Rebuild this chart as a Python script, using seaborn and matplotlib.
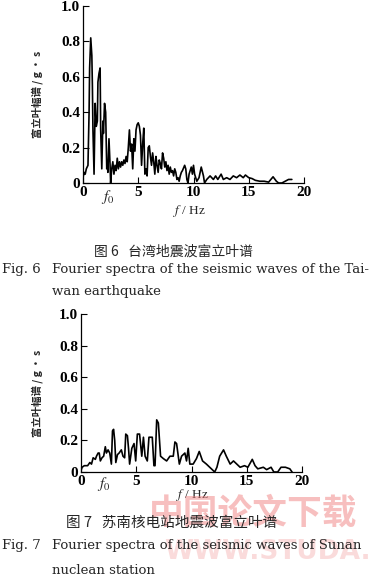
import pandas as pd
import matplotlib
matplotlib.use('Agg')
import matplotlib.pyplot as plt
import seaborn as sns

# Fig. 6 - Taiwan earthquake spectrum (frequency in Hz, amplitude in g*s)
taiwan_freq = [0.0, 0.1, 0.2, 0.3, 0.45, 0.55, 0.6, 0.7, 0.8, 0.85, 0.9, 1.0,
               1.1, 1.2, 1.3, 1.35, 1.45, 1.55, 1.6, 1.7, 1.8, 1.85, 1.95, 2.05,
               2.15, 2.2, 2.25, 2.35, 2.45, 2.5, 2.6, 2.7, 2.8, 2.9, 3.0, 3.1,
               3.2, 3.3, 3.4, 3.5, 3.6, 3.7, 3.8, 3.9, 4.0, 4.1, 4.2, 4.3, 4.4,
               4.5, 4.6, 4.7, 4.8, 4.9, 5.0, 5.1, 5.2, 5.3, 5.4, 5.5, 5.6, 5.7,
               5.8, 5.9, 6.0, 6.1, 6.2, 6.3, 6.4, 6.5, 6.6, 6.7, 6.8, 6.9, 7.0,
               7.1, 7.2, 7.3, 7.4, 7.5, 7.6, 7.7, 7.8, 7.9, 8.0, 8.1, 8.2, 8.3,
               8.4, 8.5, 8.6, 8.7, 8.8, 8.9, 9.0, 9.2, 9.3, 9.4, 9.5, 9.6, 9.8,
               9.9, 10.0, 10.1, 10.3, 10.5, 10.7, 10.9, 11.0, 11.2, 11.5, 11.8,
               12.0, 12.2, 12.5, 12.7, 13.0, 13.3, 13.6, 13.9, 14.2, 14.5, 14.7,
               15.0, 15.3, 15.6, 16.0, 16.4, 16.8, 17.0, 17.2, 17.5, 17.7, 18.0,
               18.3, 18.6, 18.9]
taiwan_amp = [0.03, 0.06, 0.05, 0.08, 0.1, 0.4, 0.65, 0.82, 0.72, 0.55, 0.3, 0.05,
              0.45, 0.32, 0.35, 0.57, 0.62, 0.65, 0.3, 0.08, 0.35, 0.28, 0.45, 0.4,
              0.08, 0.12, 0.06, 0.25, 0.1, 0.0, 0.08, 0.12, 0.05, 0.1, 0.07, 0.14,
              0.08, 0.12, 0.09, 0.12, 0.1, 0.13, 0.11, 0.15, 0.12, 0.2, 0.3, 0.18, 0.22,
              0.08, 0.25, 0.18, 0.3, 0.33, 0.34, 0.32, 0.27, 0.1, 0.22, 0.31, 0.05, 0.08,
              0.04, 0.2, 0.21, 0.15, 0.1, 0.17, 0.12, 0.05, 0.15, 0.1, 0.06, 0.13, 0.11,
              0.08, 0.17, 0.14, 0.09, 0.12, 0.07, 0.1, 0.05, 0.09, 0.06, 0.07, 0.04, 0.08,
              0.06, 0.02, 0.03, 0.01, 0.04, 0.06, 0.07, 0.1, 0.08, 0.02, 0.0, 0.05, 0.09,
              0.05, 0.1, 0.05, 0.01, 0.03, 0.09, 0.04, 0.0, 0.02, 0.04, 0.02,
              0.04, 0.02, 0.05, 0.02, 0.03, 0.02, 0.04, 0.03, 0.045, 0.03, 0.045,
              0.03, 0.025, 0.015, 0.01, 0.01, 0.005, 0.02, 0.035, 0.01, 0.0, 0.0,
              0.01, 0.02, 0.02]

# Fig. 7 - Sunan nuclear station spectrum
sunan_freq = [0.0, 0.1, 0.3, 0.6, 0.8, 0.95, 1.1, 1.3, 1.4, 1.55, 1.65, 1.75,
              1.9, 2.05, 2.2, 2.3, 2.45, 2.6, 2.75, 2.85, 2.95, 3.05, 3.15, 3.3,
              3.45, 3.65, 3.8, 3.95, 4.05, 4.2, 4.3, 4.4, 4.6, 4.8, 4.95, 5.1,
              5.3, 5.5, 5.65, 5.8, 6.0, 6.15, 6.45, 6.6, 6.7, 6.85, 7.0, 7.2,
              7.45, 7.75, 8.05, 8.35, 8.5, 8.65, 8.9, 9.1, 9.4, 9.55, 9.7, 9.85,
              10.15, 10.45, 10.7, 11.0, 11.35, 11.8, 12.1, 12.3, 12.55, 12.9,
              13.15, 13.5, 13.8, 14.1, 14.4, 14.8, 15.1, 15.5, 15.75, 16.0, 16.5,
              16.8, 17.2, 17.45, 17.8, 18.1, 18.5, 18.9, 19.1]
sunan_amp = [0.01, 0.03, 0.04, 0.04, 0.06, 0.05, 0.09, 0.08, 0.1, 0.12, 0.12, 0.07,
             0.09, 0.1, 0.16, 0.12, 0.14, 0.12, 0.05, 0.26, 0.27, 0.2, 0.06, 0.11,
             0.12, 0.14, 0.1, 0.09, 0.24, 0.23, 0.15, 0.05, 0.15, 0.18, 0.07, 0.24,
             0.24, 0.1, 0.22, 0.1, 0.07, 0.22, 0.22, 0.04, 0.04, 0.33, 0.31, 0.1,
             0.085, 0.07, 0.1, 0.1, 0.19, 0.18, 0.05, 0.1, 0.12, 0.07, 0.15, 0.05,
             0.05, 0.085, 0.13, 0.07, 0.05, 0.02, 0.0, 0.03, 0.1, 0.14,
             0.1, 0.05, 0.07, 0.05, 0.03, 0.04, 0.03, 0.08, 0.04, 0.02, 0.03,
             0.015, 0.03, 0.0, 0.0, 0.03, 0.03, 0.02, 0.0]

x_ticks = [0, 5, 10, 15, 20]
y_ticks = [0, 0.2, 0.4, 0.6, 0.8, 1.0]
y_tick_labels = ['0', '0.2', '0.4', '0.6', '0.8', '1.0']

sns.set_style('ticks')
plt.rcParams['font.family'] = ['Liberation Serif', 'Noto Sans CJK SC']
plt.rcParams['mathtext.fontset'] = 'stix'

W, H = 370, 584
fig = plt.figure(figsize=(W / 100, H / 100), dpi=100)

cjk = ['Noto Sans CJK SC', 'DejaVu Sans']
serif_en = 'DejaVu Serif'


def fy(py):
    return 1 - py / H


def draw_panel(left, top, bottom, freq, amp, f0_x, f0_y, xlab_y, xlab_x):
    width = 221
    rect = [left / W, fy(bottom), width / W, (bottom - top) / H]
    ax = fig.add_axes(rect)
    df = pd.DataFrame({'f': freq, 'a': amp})
    sns.lineplot(data=df, x='f', y='a', sort=False, estimator=None,
                 color='black', linewidth=1.2, ax=ax)
    ax.set_xlim(0, 20)
    ax.set_ylim(0, 1.0)
    ax.set_xticks(x_ticks)
    ax.set_xticklabels([str(t) for t in x_ticks])
    ax.set_yticks(y_ticks)
    ax.set_yticklabels(y_tick_labels)
    ax.tick_params(direction='in', length=4, width=0.8, labelsize=11, pad=2,
                   colors='black')
    for lbl in ax.get_xticklabels() + ax.get_yticklabels():
        lbl.set_fontweight('bold')
    sns.despine(ax=ax)
    for s in ['left', 'bottom']:
        ax.spines[s].set_linewidth(0.9)
        ax.spines[s].set_color('black')
    ax.set_xlabel('$f$ / Hz', fontsize=9.5, va='center')
    ax.xaxis.set_label_coords((xlab_x - left) / width,
                              (bottom - xlab_y) / (bottom - top))
    ax.set_ylabel('富立叶幅谱 / g • s', fontsize=7.5, family=cjk,
                  fontweight='bold')
    ax.yaxis.set_label_coords((43 - left) / width, 0.5)
    ax.text(f0_x, -(f0_y - bottom) / (bottom - top), '$f_0$', fontsize=11,
            ha='center', va='center', transform=ax.transData)
    ax.patch.set_alpha(0)
    return ax


draw_panel(83, 6, 183, taiwan_freq, taiwan_amp, 2.2, 197, 211, 190)
draw_panel(81, 314, 472, sunan_freq, sunan_amp, 2.1, 484, 495, 193)

# watermark
fig.text(253 / W, fy(513), '中国论文下载', fontsize=25, family=cjk,
         fontweight='bold', color='#f08080', alpha=0.5, ha='center',
         va='center', zorder=0)
fig.text(268 / W, fy(552), 'WWW.STUDA.', fontsize=19, family='DejaVu Sans',
         fontweight='bold', color='#f4b0b0', alpha=0.45, ha='center',
         va='center', zorder=0)

# captions
fig.text(173 / W, fy(252), '图 6   台湾地震波富立叶谱', fontsize=10,
         family=cjk, ha='center', va='center')
fig.text(2 / W, fy(270), 'Fig. 6', fontsize=9.5, family=serif_en,
         ha='left', va='center')
fig.text(52 / W, fy(270), 'Fourier spectra of the seismic waves of the Tai-',
         fontsize=9.5, family=serif_en, ha='left', va='center')
fig.text(52 / W, fy(291), 'wan earthquake', fontsize=9.5, family=serif_en,
         ha='left', va='center')

fig.text(172 / W, fy(523), '图 7   苏南核电站地震波富立叶谱', fontsize=10.5,
         family=cjk, ha='center', va='center')
fig.text(2 / W, fy(545), 'Fig. 7', fontsize=9.5, family=serif_en,
         ha='left', va='center')
fig.text(52 / W, fy(545), 'Fourier spectra of the seismic waves of Sunan',
         fontsize=9.5, family=serif_en, ha='left', va='center')
fig.text(52 / W, fy(570), 'nuclean station', fontsize=9.5, family=serif_en,
         ha='left', va='center')

fig.savefig('out.png', dpi=100)
